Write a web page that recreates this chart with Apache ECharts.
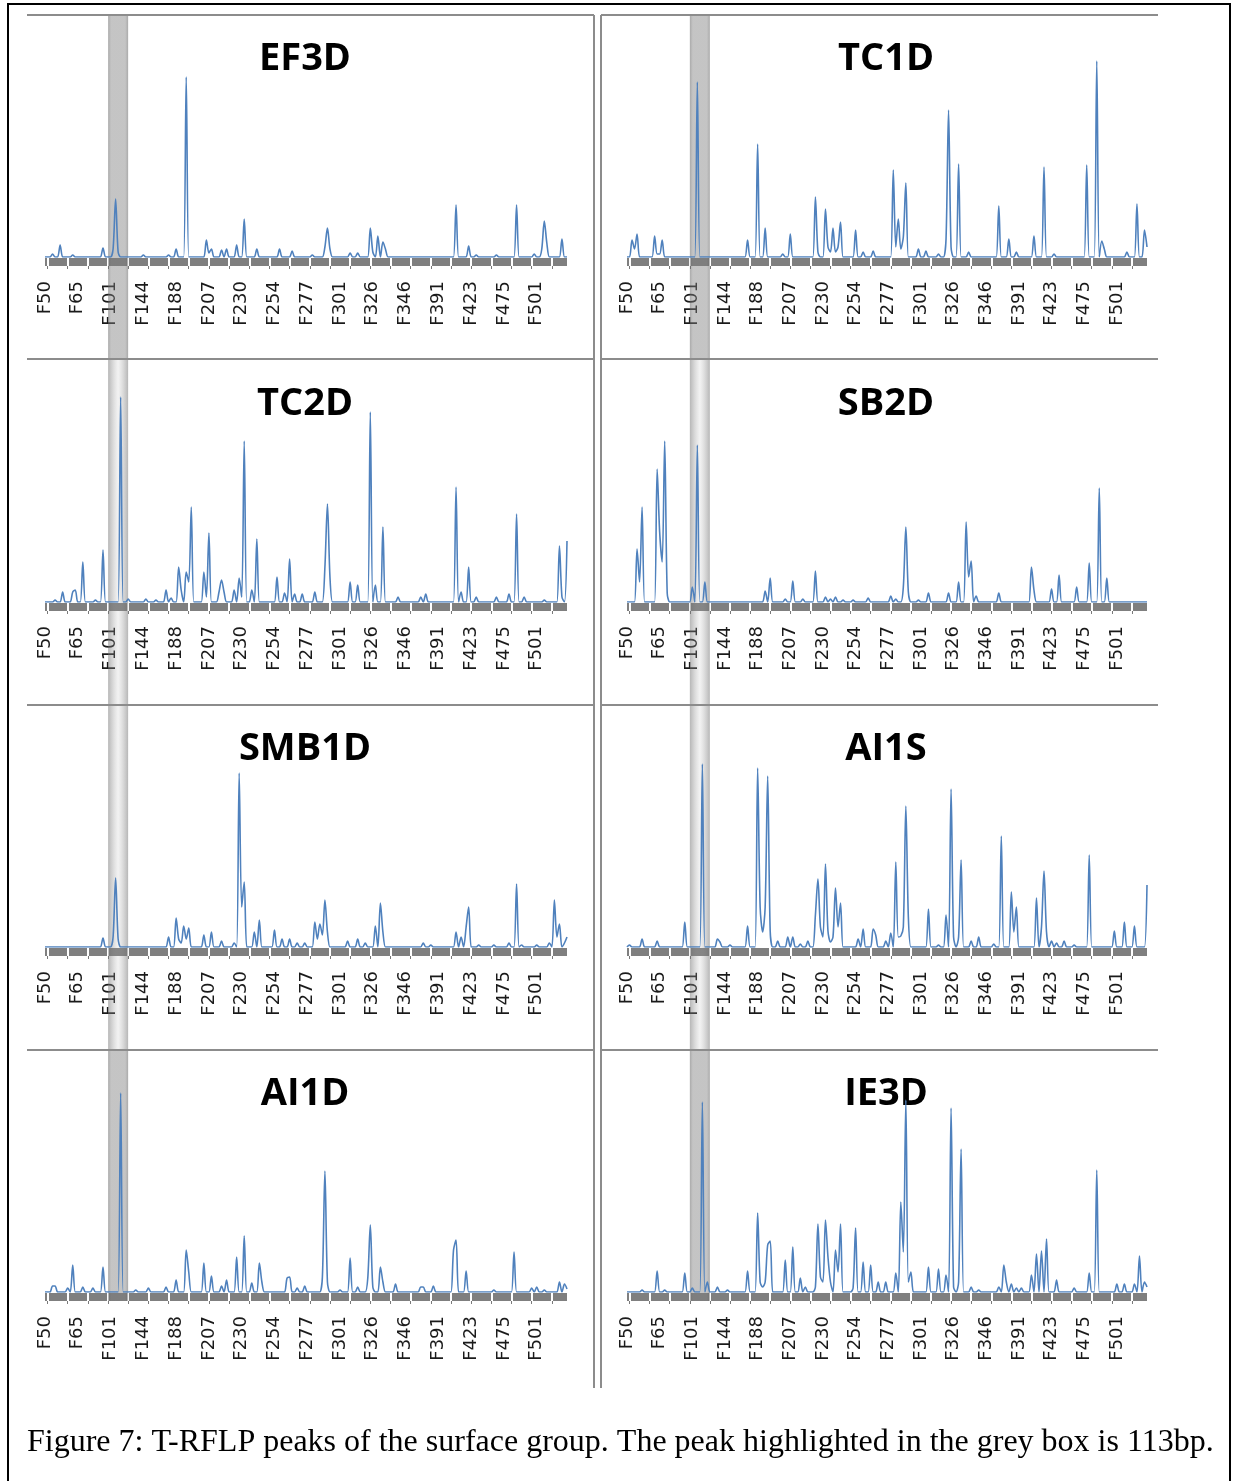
<!DOCTYPE html>
<html><head><meta charset="utf-8">
<script src="https://cdn.jsdelivr.net/npm/echarts@6/dist/echarts.min.js"></script>
<style>html,body{margin:0;padding:0;background:#fff}#c{width:1233px;height:1481px}</style>
</head><body><div id="c"></div>
<script>
// ---- tick labels (one every 13 categories) ----
const tickLabels = ['F50','F65','F101','F144','F188','F207','F230','F254','F277','F301','F326','F346','F391','F423','F475','F501'];
const panelNames = ['EF3D','TC1D','TC2D','SB2D','SMB1D','AI1S','AI1D','IE3D'];
const captionText = 'Figure 7: T-RFLP peaks of the surface group. The peak highlighted in the grey box is 113bp.';
const highlightIndex = 29; // category of the 113bp peak

// ---- peak heights, 208 categories each (16 rows of 13) ----
const EF3D = [
0,0,0,3,0,0,12,0,0,0,0,2,0,
0,0,0,0,0,0,0,0,0,0,9,0,0,
0,8,58,5,0,0,0,0,0,0,0,0,0,
2,0,0,0,0,0,0,0,0,0,2,0,0,
8,0,0,0,180,0,0,0,0,0,0,0,17,
4,8,0,0,0,7,0,8,0,0,0,12,0,
0,38,0,0,0,0,8,0,0,0,0,0,0,
0,0,8,0,0,0,0,6,0,0,0,0,0,
0,0,2,0,0,0,0,10,29,8,0,0,0,
0,0,0,0,4,0,0,4,0,0,0,0,29,
5,0,21,0,15,8,0,0,0,0,0,0,0,
0,0,0,0,0,0,0,0,0,0,0,0,0,
0,0,0,0,0,0,0,52,0,0,0,0,11,
0,0,2,0,0,0,0,0,0,0,2,0,0,
0,0,0,0,0,52,0,0,0,0,0,0,3,
0,0,8,36,14,0,0,0,0,0,18,0,0];
const TC1D = [
0,0,17,8,23,0,0,0,0,0,0,21,3,
3,17,0,0,0,0,0,0,0,0,0,0,0,
0,0,175,0,0,0,0,0,0,0,0,0,0,
0,0,0,0,0,0,0,0,0,17,0,0,0,
113,0,0,29,0,0,0,0,0,0,3,0,0,
23,0,0,0,0,0,0,0,0,0,60,5,0,
0,48,10,5,29,5,10,35,0,0,0,0,0,
27,0,0,5,0,0,0,6,0,0,0,0,0,
0,0,87,10,38,8,20,74,0,0,0,0,8,
0,0,6,0,0,0,0,3,0,0,18,147,10,
0,0,93,0,0,0,5,0,0,0,0,0,0,
0,0,0,0,0,51,0,0,0,18,0,0,5,
0,0,0,0,0,0,21,0,0,0,90,0,0,
0,3,0,0,0,0,0,0,0,0,0,0,0,
0,92,0,0,0,196,0,16,8,0,0,0,0,
0,0,0,0,5,0,0,0,53,0,0,27,10];
const TC2D = [
0,0,0,0,2,0,0,10,0,0,0,10,12,
0,0,40,0,0,0,0,2,0,0,52,0,0,
0,0,0,0,205,0,0,3,0,0,0,0,0,
0,3,0,0,0,2,0,0,0,12,0,4,0,
0,35,12,0,30,20,95,0,0,0,0,30,5,
69,0,0,0,10,22,10,0,0,0,12,0,24,
5,161,0,0,12,0,63,0,0,0,0,0,0,
0,25,0,0,9,0,43,0,8,0,0,8,0,
0,0,0,10,0,0,0,35,98,25,0,0,0,
0,0,0,0,20,0,0,17,0,0,0,0,190,
0,17,0,0,75,0,0,0,0,0,5,0,0,
0,0,0,0,0,0,5,0,8,0,0,0,0,
0,0,0,0,0,0,0,115,0,10,0,0,35,
0,0,5,0,0,0,0,0,0,0,5,0,0,
0,0,8,0,0,88,0,0,5,0,0,0,0,
0,0,0,2,0,0,0,0,0,56,5,0,61];
const SB2D = [
0,0,0,0,53,20,95,0,0,0,0,0,133,
70,40,161,9,0,0,0,0,0,0,0,0,0,
15,0,157,0,0,20,0,0,0,0,0,0,0,
0,0,0,0,0,0,0,0,0,0,0,0,0,
0,0,0,11,0,24,0,0,0,0,0,3,0,
0,21,0,0,0,3,0,0,0,0,31,0,0,
0,5,0,3,0,5,0,0,2,0,0,0,2,
0,0,0,0,0,4,0,0,0,0,0,0,0,
0,6,0,3,0,0,15,75,10,0,0,0,2,
0,0,0,9,0,0,0,0,0,0,0,9,0,
0,0,20,0,0,80,25,41,0,6,0,0,0,
0,0,0,0,0,9,0,0,0,0,0,0,0,
0,0,0,0,0,35,12,0,0,0,0,0,0,
13,0,0,27,0,0,0,0,0,0,15,0,0,
0,0,39,0,0,0,114,0,0,24,0,0,0,
0,0,0,0,0,0,0,0,0,0,0,0,0];
const SMB1D = [
0,0,0,0,0,0,0,0,0,0,0,0,0,
0,0,0,0,0,0,0,0,0,0,9,0,0,
0,10,69,8,0,0,0,0,0,0,0,0,0,
0,0,0,0,0,0,0,0,0,0,10,0,0,
29,8,4,21,8,19,0,0,0,0,0,12,0,
0,15,0,0,0,6,0,0,0,0,4,0,174,
40,65,0,0,0,15,0,27,0,0,0,0,0,
17,0,0,8,0,0,8,0,0,4,0,0,4,
0,0,0,25,8,23,12,47,15,0,0,0,0,
0,0,0,6,0,0,0,8,0,0,4,0,0,
0,21,0,44,15,0,0,0,0,0,0,0,0,
0,0,0,0,0,0,0,4,0,0,2,0,0,
0,0,0,0,0,0,0,15,0,10,0,20,40,
0,0,0,2,0,0,0,0,0,2,0,0,0,
0,0,4,0,0,63,0,2,0,0,0,0,0,
2,0,0,0,0,4,0,47,10,23,0,4,10];
const AI1S = [
0,2,0,0,0,0,8,0,0,0,0,0,6,
0,0,0,0,0,0,0,0,0,0,25,0,0,
0,0,0,0,183,0,0,0,0,0,8,5,0,
0,0,2,0,0,0,0,0,0,21,0,0,0,
179,40,15,40,171,16,0,0,6,0,0,0,10,
0,10,0,0,3,0,0,6,0,0,32,68,20,
10,83,16,5,10,59,20,44,0,0,0,0,0,
0,8,0,18,0,0,0,18,12,0,0,0,6,
0,14,0,85,10,11,20,141,30,0,0,0,0,
0,0,0,38,0,0,0,2,0,0,32,0,158,
10,0,10,87,0,0,0,6,0,0,10,0,0,
0,0,0,3,0,0,111,0,0,0,55,15,40,
0,0,0,0,0,0,0,49,0,20,76,15,0,
6,0,4,0,0,6,0,0,0,2,0,0,0,
0,0,92,0,0,0,0,0,0,0,0,0,16,
0,0,0,25,0,0,0,21,0,0,0,0,62];
const AI1D = [
0,0,0,6,6,0,0,0,0,4,0,27,0,
0,0,5,0,0,0,4,0,0,0,25,0,0,
0,0,0,0,199,0,0,0,0,0,2,0,0,
0,0,4,0,0,0,0,0,0,5,0,0,0,
12,0,0,0,42,20,0,0,0,0,0,29,0,
0,16,0,0,0,6,0,12,0,0,0,35,0,
0,56,0,0,9,0,0,29,10,0,0,0,0,
0,0,0,0,0,14,15,0,0,4,0,0,6,
0,0,0,0,0,0,15,121,10,0,0,0,0,
2,0,0,0,34,0,0,5,0,0,0,14,67,
5,0,0,25,10,0,0,0,0,8,0,0,0,
0,0,0,0,0,0,5,5,0,0,0,6,0,
0,0,0,0,0,0,42,52,0,0,0,21,0,
0,0,0,0,0,0,0,0,0,2,0,0,0,
0,0,0,0,40,0,0,0,0,0,0,4,0,
5,0,0,2,0,0,0,0,0,10,0,8,3];
const IE3D = [
0,0,0,0,0,0,2,0,0,0,0,0,21,
0,0,2,0,0,0,0,0,0,0,19,0,0,
4,0,0,0,190,0,10,0,0,0,5,0,0,
0,2,0,0,0,0,0,0,0,21,0,0,0,
79,10,5,10,47,51,0,0,0,0,0,32,0,
0,45,0,0,14,0,5,0,0,0,5,68,15,
10,72,35,10,0,42,20,68,0,0,0,0,4,
64,0,0,30,0,0,27,0,0,10,0,0,10,
0,0,0,19,0,90,40,192,10,20,0,0,0,
0,0,0,25,0,0,0,23,0,0,17,0,184,
5,0,10,143,0,0,0,5,0,0,2,0,0,
0,0,0,0,0,5,0,27,10,0,8,0,4,
0,4,0,0,0,17,0,38,0,41,0,53,0,
0,0,12,0,0,0,0,0,0,4,0,0,0,
0,0,19,0,0,122,0,0,0,0,0,0,0,
8,0,0,8,0,0,0,8,0,36,0,10,5];

const seriesValues = [EF3D, TC1D, TC2D, SB2D, SMB1D, AI1S, AI1D, IE3D];
const LABEL_STEP = 13;
const categories = EF3D.map((_, i) => (i % LABEL_STEP === 0 ? tickLabels[i / LABEL_STEP] : ''));

// ---- layout ----
const COLS = [{left: 45, width: 522, titleX: 305}, {left: 627, width: 520, titleX: 886}];
const BASE = [257, 602, 947, 1292];
const PLOT_H = 215;
const BAND_H = 8;
const gapTick = (i) => i % 8 === 1;

const grid = [], xAxis = [], yAxis = [], series = [];
seriesValues.forEach((vals, p) => {
  const col = COLS[p % 2], row = Math.floor(p / 2), b = BASE[row];
  const gm = grid.length;
  grid.push({left: col.left, top: b - PLOT_H, width: col.width, height: PLOT_H});
  grid.push({left: col.left, top: b + 1, width: col.width, height: BAND_H, show: true,
             backgroundColor: '#7f7f7f', borderWidth: 0});
  xAxis.push({gridIndex: gm, type: 'category', data: categories, boundaryGap: false,
              axisLine: {show: false}, axisTick: {show: false}, axisLabel: {show: false}, splitLine: {show: false}});
  xAxis.push({gridIndex: gm + 1, type: 'category', data: categories, boundaryGap: false,
              axisLine: {show: false},
              axisTick: {show: true, interval: gapTick, length: 3, lineStyle: {color: '#7a7a7a', width: 1}},
              splitLine: {show: true, interval: gapTick, lineStyle: {color: '#ffffff', width: 2}},
              axisLabel: {show: true, interval: LABEL_STEP - 1, rotate: 90, margin: 15,
                          fontFamily: 'DejaVu Sans', fontSize: 18, color: '#1a1a1a'}});
  yAxis.push({gridIndex: gm, type: 'value', min: 0, max: PLOT_H, show: false});
  yAxis.push({gridIndex: gm + 1, type: 'value', show: false});
  series.push({type: 'line', name: panelNames[p], xAxisIndex: gm, yAxisIndex: gm, data: vals,
               showSymbol: false, smooth: 0.3, silent: true, z: 3,
               lineStyle: {color: '#4f81bd', width: 1.6}});
});

const chart = echarts.init(document.getElementById('c'), null, {renderer: 'canvas'});
chart.setOption({backgroundColor: '#ffffff', animation: false, grid, xAxis, yAxis, series});

// ---- decorations ----
const elements = [];
const BORDER = '#8c8c8c';
const rowTops = [15, 359, 705, 1050];
rowTops.forEach(y => {
  elements.push({type: 'line', z: 5, shape: {x1: 27, y1: y, x2: 594, y2: y}, style: {stroke: BORDER, lineWidth: 2}});
  elements.push({type: 'line', z: 5, shape: {x1: 601, y1: y, x2: 1158, y2: y}, style: {stroke: BORDER, lineWidth: 2}});
});
[594, 601].forEach(x => {
  elements.push({type: 'line', z: 5, shape: {x1: x, y1: 15, x2: x, y2: 1388}, style: {stroke: BORDER, lineWidth: 2}});
});
elements.push({type: 'rect', z: 6, shape: {x: 8, y: 4, width: 1222, height: 1500},
               style: {fill: 'none', stroke: '#000', lineWidth: 2}});

// highlight band positioned from the data category of the 113bp peak
const solidFill = {type: 'linear', x: 0, y: 0, x2: 1, y2: 0, colorStops: [
  {offset: 0, color: 'rgba(100,100,100,0.55)'}, {offset: 0.15, color: 'rgba(125,125,125,0.45)'},
  {offset: 0.85, color: 'rgba(125,125,125,0.45)'}, {offset: 1, color: 'rgba(100,100,100,0.55)'}]};
const softFill = {type: 'linear', x: 0, y: 0, x2: 1, y2: 0, colorStops: [
  {offset: 0, color: 'rgba(110,110,110,0.5)'}, {offset: 0.5, color: 'rgba(170,170,170,0.15)'},
  {offset: 1, color: 'rgba(110,110,110,0.5)'}]};
[0, 1].forEach(c => {
  const cx = chart.convertToPixel({xAxisIndex: c * 2}, highlightIndex);
  const x0 = cx - 10, w = 20;
  const segs = [[16, 358, solidFill], [360, 1049, softFill], [1051, BASE[3] + 1 + BAND_H, solidFill]];
  segs.forEach(([y0, y1, fill]) => {
    elements.push({type: 'rect', z: 2, shape: {x: x0, y: y0, width: w, height: y1 - y0}, style: {fill}});
  });
});

// panel titles
panelNames.forEach((name, p) => {
  const col = COLS[p % 2], row = Math.floor(p / 2);
  elements.push({type: 'text', z: 1, x: col.titleX, y: 59.5 + 345 * row,
    style: {text: name, textAlign: 'center', textVerticalAlign: 'middle',
            font: 'bold 38px "Open Sans"', fill: '#000'}});
});

// caption
elements.push({type: 'text', z: 6, x: 27, y: 1443,
  style: {text: captionText, textAlign: 'left', textVerticalAlign: 'middle',
          font: '32px "Liberation Serif"', fill: '#000'}});

chart.setOption({graphic: {elements}});
</script>
</body></html>
